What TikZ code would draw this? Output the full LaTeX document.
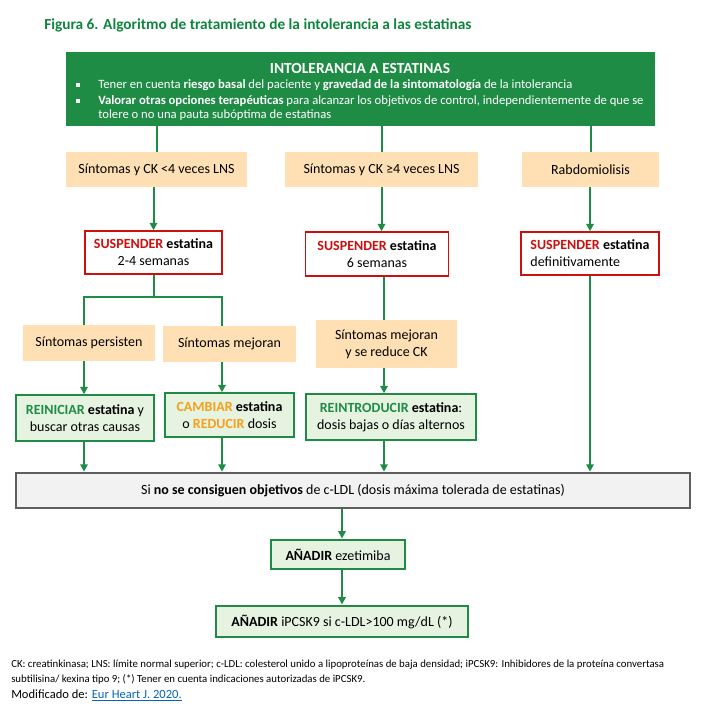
\documentclass[tikz,border=0pt]{standalone}
\usepackage{fontspec}
\setmainfont{Carlito}
\usetikzlibrary{arrows.meta}
\definecolor{gmain}{HTML}{1E8C45}
\definecolor{gtitle}{HTML}{0E853D}
\definecolor{orfill}{HTML}{FFE0B4}
\definecolor{redc}{HTML}{CC1010}
\definecolor{lgreen}{HTML}{E6F3E1}
\definecolor{grayb}{HTML}{5E5E5E}
\definecolor{grayf}{HTML}{F2F2F2}
\definecolor{orc}{HTML}{F5A01A}
\definecolor{linkc}{HTML}{0563C1}
\tikzset{
  box/.style 2 args={minimum width=#1*0.75pt, minimum height=#2*0.75pt},
  topbox/.style={fill=gmain, draw=none},
  orbox/.style={fill=orfill, draw=none, align=center},
  redbox/.style={draw=redc, line width=1.1pt, fill=white, align=center},
  grbox/.style={draw=gmain, line width=1.1pt, fill=lgreen, align=center},
  graybox/.style={draw=grayb, line width=2pt, fill=grayf, align=center},
  addbox/.style={draw=gmain, line width=2.2pt, fill=lgreen, align=center},
  conn/.style={draw=gmain, line width=1.5pt},
  arr/.style={conn, -{Triangle[width=5.5pt,length=5.5pt]}},
  wtxt/.style={anchor=west, text=white, font=\fontsize{9.5}{12}\selectfont},
  bsq/.style={fill=white, draw=none, minimum size=2.6pt},
  foot/.style={anchor=base west, font=\fontsize{8.1}{10}\selectfont}
}
\newcommand{\rsp}{\textcolor{redc}{\textbf{SUSPENDER}}}
\begin{document}
\begin{tikzpicture}[x=0.75pt,y=-0.75pt, every node/.style={font=\fontsize{10.5}{12.75}\selectfont, inner sep=0pt}]
\useasboundingbox (0,0) rectangle (707,723);

% title
\node[anchor=base west, text=gtitle, font=\bfseries\fontsize{11.5}{13}\selectfont] (title) at (44,30) {Figura 6. Algoritmo de tratamiento de la intolerancia a las estatinas};

% top box
\node[topbox, box={589}{74}] (top) at (360.5,89) {};
\node[text=white, font=\bfseries\fontsize{11.6}{13}\selectfont] (th) at (360,68) {INTOLERANCIA A ESTATINAS};
\node[bsq] (b1) at (78,85) {};
\node[wtxt] (t1) at (98,85) {Tener en cuenta \textbf{riesgo basal} del paciente y \textbf{gravedad de la sintomatología} de la intolerancia};
\node[bsq] (b2) at (78,101) {};
\node[wtxt] (t2) at (98,101) {\textbf{Valorar otras opciones terapéuticas} para alcanzar los objetivos de control, independientemente de que se};
\node[wtxt] (t3) at (98,115.5) {tolere o no una pauta subóptima de estatinas};

% first orange row
\node[orbox, box={181}{35}] (o1) at (156.5,169.5) {Síntomas y CK <4 veces LNS};
\node[orbox, box={193}{35}] (o2) at (381.5,169.5) {Síntomas y CK ≥4 veces LNS};
\node[orbox, box={137}{35}] (o3) at (590.5,169.5) {Rabdomiolisis};

% red row
\node[redbox, box={137}{43}] (r1) at (153.5,252.5) {\rsp{} \textbf{estatina}\\2-4 semanas};
\node[redbox, box={143}{44}] (r2) at (377,254) {\rsp{} \textbf{estatina}\\6 semanas};
\node[redbox, box={138}{43}, align=left] (r3) at (590,253.5) {\rsp{} \textbf{estatina}\\definitivamente};

% second orange row
\node[orbox, box={132}{36}] (a) at (89,343) {Síntomas persisten};
\node[orbox, box={133}{36}] (b) at (229.5,344) {Síntomas mejoran};
\node[orbox, box={141}{48}] (c) at (386.5,344) {Síntomas mejoran\\y se reduce CK};

% green row
\node[grbox, box={138}{46}] (A) at (85,418) {\textcolor{gmain}{\textbf{REINICIAR}} \textbf{estatina} y\\buscar otras causas};
\node[grbox, box={129}{44}] (B) at (229.5,415) {\textcolor{orc}{\textbf{CAMBIAR}} \textbf{estatina}\\o \textcolor{orc}{\textbf{REDUCIR}} dosis};
\node[grbox, box={170}{46}] (C) at (391,417) {\textcolor{gmain}{\textbf{REINTRODUCIR}} \textbf{estatina}:\\dosis bajas o días alternos};

% gray box
\node[graybox, box={674}{35}] (G) at (353,490.5) {Si \textbf{no se consiguen objetivos} de c-LDL (dosis máxima tolerada de estatinas)};

% add boxes
\node[addbox, box={134}{29}] (E) at (338,554.5) {\textbf{AÑADIR} ezetimiba};
\node[addbox, box={252}{31}] (P) at (342,621.5) {\textbf{AÑADIR} iPCSK9 si c-LDL>100 mg/dL (*)};

% coordinates for connector columns
\coordinate (ca) at (84,297);
\coordinate (cb) at (222,297);
\coordinate (cc) at (384,297);

% connectors
\draw[conn] (o1.north |- top.south) -- (o1.north);
\draw[conn] (o2.north |- top.south) -- (o2.north);
\draw[conn] (o3.north |- top.south) -- (o3.north);
\draw[arr] (r1.north |- o1.south) -- (r1.north);
\draw[arr] (o2.south) -- (o2.south |- r2.north);
\draw[arr] (r3.north |- o3.south) -- (r3.north);

\draw[conn] (r1.south) -- (r1.south |- ca);
\draw[conn] (ca |- a.north) -- (ca) -- (cb) -- (cb |- b.north);
\draw[conn] (cc |- r2.south) -- (cc |- c.north);

\draw[arr] (ca |- a.south) -- (ca |- A.north);
\draw[arr] (cb |- b.south) -- (cb |- B.north);
\draw[arr] (cc |- c.south) -- (cc |- C.north);

\draw[arr] (ca |- A.south) -- (ca |- G.north);
\draw[arr] (cb |- B.south) -- (cb |- G.north);
\draw[arr] (cc |- C.south) -- (cc |- G.north);
\draw[arr] (r3.south) -- (r3.south |- G.north);

\draw[arr] (P.north |- G.south) -- (P.north |- E.north);
\draw[arr] (P.north |- E.south) -- (P.north);

% footnote
\node[foot] (f1) at (11,667) {CK: creatinkinasa; LNS: límite normal superior; c-LDL: colesterol unido a lipoproteínas de baja densidad; iPCSK9: Inhibidores de la proteína convertasa};
\node[foot] (f2) at (11,682) {subtilisina/ kexina tipo 9; (*) Tener en cuenta indicaciones autorizadas de iPCSK9.};
\node[foot, font=\fontsize{9.4}{11}\selectfont] (f3) at (11,698) {Modificado de: \textcolor{linkc}{\underline{Eur Heart J. 2020.}}};
\end{tikzpicture}
\end{document}
